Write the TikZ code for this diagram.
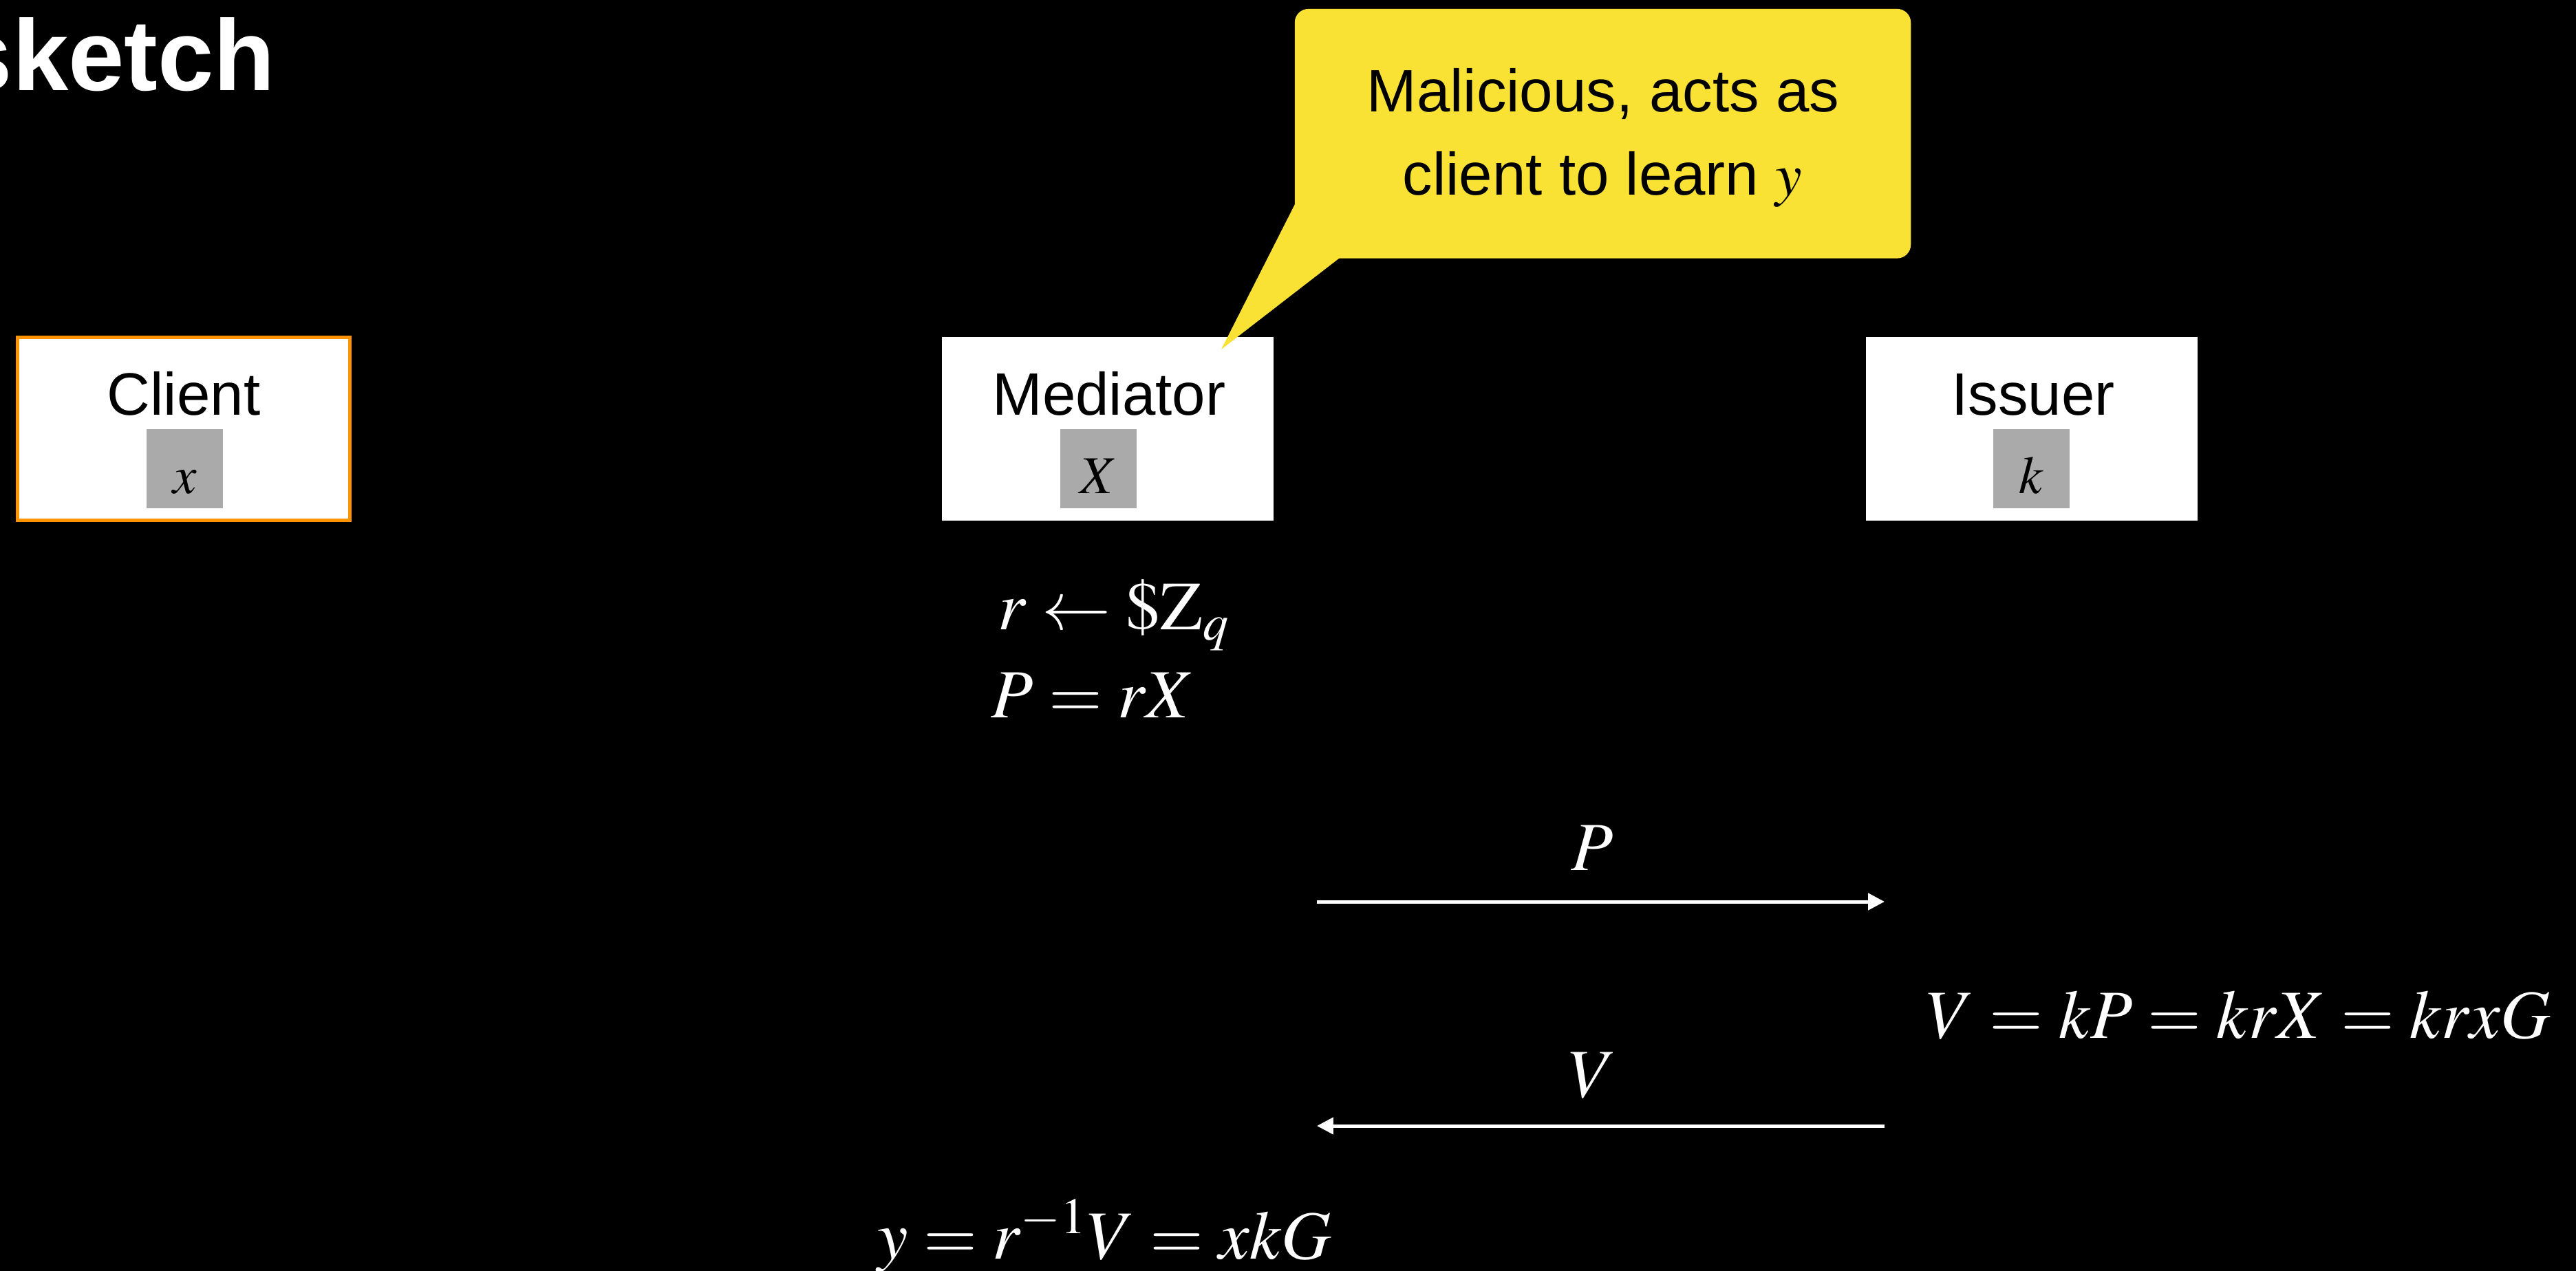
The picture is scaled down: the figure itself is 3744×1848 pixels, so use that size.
\documentclass[tikz,border=0pt]{standalone}
\usepackage{mathptmx}
\usepackage[no-math]{fontspec}
\setmainfont{Liberation Sans}
\usepackage{graphicx}
\usetikzlibrary{arrows.meta}
\definecolor{clientorange}{RGB}{255,147,0}
\definecolor{keygray}{RGB}{170,170,170}
\definecolor{calloutyellow}{RGB}{249,226,52}
\tikzset{
  party/.style={rectangle, fill=white, minimum width=4.82cm, minimum height=2.66cm, inner sep=0pt},
  partyname/.style={anchor=base, inner sep=0pt, text=black, font=\fontsize{24.75}{29}\selectfont},
  secret/.style={rectangle, fill=keygray, minimum width=1.11cm, minimum height=1.15cm, inner sep=0pt},
  secretsym/.style={anchor=base, inner sep=0pt, text=black, font=\fontsize{22}{26}\selectfont},
  mathtxt/.style={inner sep=0pt, text=white, font=\fontsize{28.5}{34}\selectfont},
  calltxt/.style={anchor=base, inner sep=0pt, text=black, font=\fontsize{24.75}{29}\selectfont},
  msg/.style={draw=white, line width=1.42pt, -{Triangle[length=6.8pt,width=6.8pt]}},
}
\begin{document}
\begin{tikzpicture}[x=0.01cm,y=-0.01cm]
\useasboundingbox (0,0) rectangle (3744,1848);
\fill[black] (0,0) rectangle (3744,1848);
\clip (0,0) rectangle (3744,1848);

% title (partly cut off at the left edge)
\node[anchor=base east, inner sep=0pt, text=white, font=\fontsize{41.6}{50}\selectfont\bfseries] (title) at (401,131) {sketch};

% parties
\node[party, draw=clientorange, line width=1.42pt] (client) at (267,623.5) {};
\node[party] (mediator) at (1610,623.5) {};
\node[party] (issuer) at (2953,623.5) {};

\node[partyname] (clientname) at (267,603) {Client};
\node[partyname] (medname) at (1612,603) {Mediator};
\node[partyname] (issname) at (2955,603) {Issuer};

\node[secret] (clientkey) at (268.5,681.5) {};
\node[secret] (medkey) at (1596.5,681.5) {};
\node[secret] (isskey) at (2952.5,681.5) {};
\node[secretsym] (clientsym) at (268.5,717) {$x$};
\node[secretsym] (medsym) at (1596.5,717) {$X$};
\node[secretsym] (isssym) at (2952.5,717) {$k$};

% callout
\node[rectangle, rounded corners=0.2cm, fill=calloutyellow, minimum width=8.95cm, minimum height=3.625cm, inner sep=0pt] (callout) at (2329.5,194.25) {};
\fill[calloutyellow] (1882,297) -- (1775,508) -- (1947,375) -- (1947,360) -- (1882,280) -- cycle;
\node[calltxt] (callA) at (2330,162) {Malicious, acts as};
\node[calltxt] (callB) at (2329,283) {client to learn $y$};

% mediator computations
\node[mathtxt, anchor=base west] (rsample) at (1450,915) {$r \leftarrow \$\mathrm{Z}_q$};
\node[mathtxt, anchor=base west] (pcomp) at (1440,1043) {$P = rX$};

% messages
\coordinate (pS) at (1914,1311);
\coordinate (pE) at (2739,1311);
\coordinate (vS) at (2739,1637);
\coordinate (vE) at (1914,1637);
\draw[msg] (pS) -- (pE);
\draw[msg] (vS) -- (vE);
\node[mathtxt, anchor=base] (plabel) at (2314,1265) {$P$};
\node[mathtxt, anchor=base] (vlabel) at (2315,1595) {$V$};

\node[mathtxt, anchor=base west] (vcomp) at (2800,1509) {$V = kP = krX = krxG$};
\node[mathtxt, anchor=base west] (ycomp) at (1275,1830) {$y = r^{-1}V = xkG$};
\end{tikzpicture}
\end{document}
